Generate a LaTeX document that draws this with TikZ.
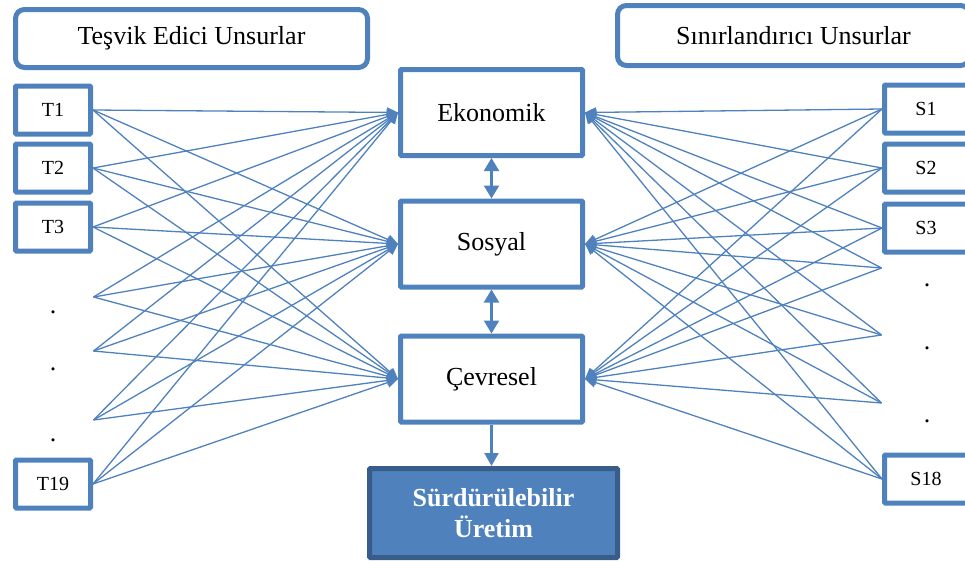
\documentclass[tikz,border=0pt]{standalone}
\usepackage{fontspec}
\setmainfont{Liberation Serif}
\usetikzlibrary{arrows.meta}
\definecolor{accent}{HTML}{4F81BD}
\definecolor{accentdark}{HTML}{385D8A}

\begin{document}
\begin{tikzpicture}[x=1pt,y=-1pt,
  head/.style={draw=accent,line width=5pt,rounded corners=9pt,minimum width=352pt,minimum height=#1,font=\fontsize{26}{30}\selectfont},
  item/.style={draw=accent,line width=5pt,rounded corners=1pt,minimum width=#1,minimum height=48pt,inner sep=0pt,font=\fontsize{20}{24}\selectfont},
  dim/.style={draw=accent,line width=5pt,rounded corners=1pt,minimum width=182pt,minimum height=86pt,font=\fontsize{26}{30}\selectfont},
  goal/.style={draw=accentdark,fill=accent,line width=5pt,rounded corners=1pt,minimum width=248pt,minimum height=89pt,align=center,text=white,font=\fontsize{26}{31.5}\selectfont\bfseries},
  free/.style={inner sep=0pt,outer sep=0pt},
  gap/.style={anchor=base,inner sep=0pt,font=\fontsize{26}{30}\selectfont},
  link/.style={accent,line width=1.3pt,-{Triangle[length=11pt,width=10pt]}},
  both/.style={accent,line width=2.2pt,{Triangle[length=13pt,width=15pt]}-{Triangle[length=13pt,width=15pt]}}]
\useasboundingbox (0,0) rectangle (965,562);
% headers
\node[head=58pt] (lefthead) at (191.5,38.5) {Teşvik Edici Unsurlar};
\node[head=60pt] (righthead) at (793.5,35.5) {Sınırlandırıcı Unsurlar};
% dimensions
\node[dim] (eko) at (491.5,112.5) {Ekonomik};
\node[dim] (sos) at (491.5,244) {Sosyal};
\node[dim] (cev) at (491.5,379) {Çevresel};
\node[goal] (sur) at (493.5,513) {Sürdürülebilir\\Üretim};
% left items
\foreach \n/\y in %
{T1/110,T2/168,T3/227,T19/484} {
   \node[item=75pt] (\n) at (53,\y) {\n};
}
\foreach \n/\y in %
{pL1/297,pL2/351,pL3/420} {
   \node[free] (\n) at (93,\y) {};
}
\foreach \y in {313,370,441} {
   \node[gap] at (53,\y) {.};
}
% right items
\foreach \n/\y in %
{S1/109,S2/168,S3/228,S18/479} {
   \node[item=83pt] (\n) at (926,\y) {\n};
}
\foreach \n/\y in %
{pR1/268,pR2/335,pR3/403} {
   \node[free] (\n) at (882,\y) {};
}
\foreach \y in {286,349,422} {
   \node[gap] at (927,\y) {.};
}
% connectors
\foreach \s in {T1,T2,T3,pL1,pL2,pL3,T19} {
   \foreach \d in {eko,sos,cev} {
      \draw[link] (\s.east) -- (\d.west);
   }
}
\foreach \s in {S1,S2,S3,pR1,pR2,pR3,S18} {
   \foreach \d in {eko,sos,cev} {
      \draw[link] (\s.west) -- (\d.east);
   }
}
\draw[both] (eko.south) -- (sos.north);
\draw[both] (sos.south) -- (cev.north);
\draw[accent,line width=2.2pt,-{Triangle[length=13pt,width=14pt]}] (cev.south) -- (cev.south |- sur.north);
\end{tikzpicture}
\end{document}
